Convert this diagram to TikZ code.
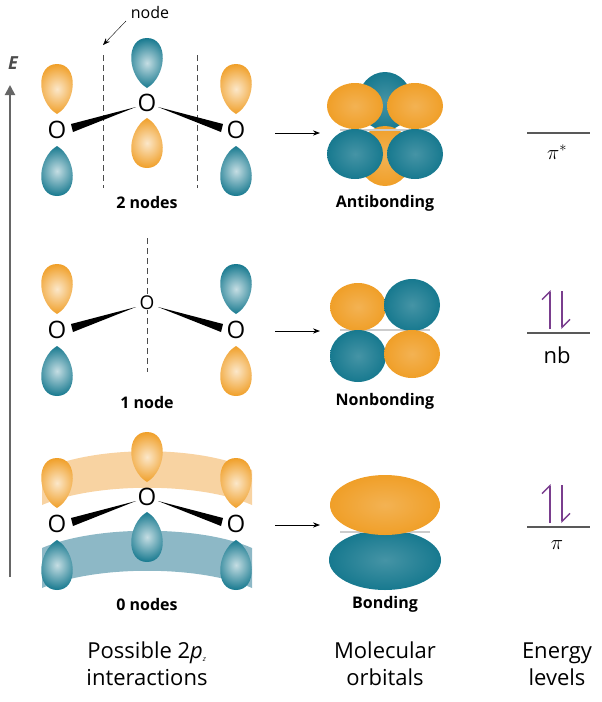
\documentclass[tikz,border=0pt]{standalone}
\usepackage{fontspec}
\setmainfont{Open Sans}
\usetikzlibrary{arrows.meta}
\definecolor{orb}{HTML}{F09F28}
\definecolor{tl}{HTML}{17798F}
\definecolor{lorb}{HTML}{F8D3A2}
\definecolor{ltl}{HTML}{8DB8C6}
\definecolor{pur}{HTML}{7A3E8E}
\newcommand\Lobe[4]{\begin{scope}[shift={(#1,#2)},yscale=#3]
\shade[inner color=#4!25!white, outer color=#4, shading=radial] (0,0) .. controls (-20,-12) and (-22,-50) .. (0,-50) .. controls (22,-50) and (20,-12) .. (0,0);
\end{scope}}
\tikzset{
 atom/.style={font=\fontsize{24}{24}\selectfont, inner sep=0.5pt},
 lab/.style={font=\bfseries\fontsize{16}{18}\selectfont},
 captxt/.style={font=\fontsize{22}{27}\selectfont, align=center},
 ndash/.style={thick, black!70, dash pattern=on 6pt off 4pt},
 rx/.style={-{Stealth[length=7pt]}, thick},
 lev/.style={line width=1.4pt, black!65},
 el/.style={pur, line width=1.4pt},
 mo/.style={inner color=#1!80!white, outer color=#1}
}
\begin{document}
\begin{tikzpicture}[x=1pt,y=-1pt]
\useasboundingbox (0,0) rectangle (602,702);
% E axis
\draw[line width=2pt, black!60, -{Triangle[length=10pt,width=10pt]}] (10,577) -- (10,85);
\node[font=\bfseries\itshape\fontsize{18}{18}\selectfont, black!70] (E) at (13,63) {E};
% ---------- top row ----------
\draw[ndash] (103,55) -- (103,188);
\draw[ndash] (197,55) -- (197,188);
\node[font=\fontsize{16}{16}\selectfont] (nodelab) at (150,12) {node};
\coordinate (nodetip) at (103,45);
\draw[-{Stealth[length=7pt]}] (126,21) -- (nodetip);
\Lobe{57}{114}{1}{orb}\Lobe{57}{146}{-1}{tl}
\Lobe{147}{88}{1}{tl}\Lobe{147}{118}{-1}{orb}
\Lobe{236}{114}{1}{orb}\Lobe{236}{146}{-1}{tl}
\fill (136,107) -- (71,124) -- (73,132) -- cycle;
\fill (158,107) -- (223,124) -- (221,132) -- cycle;
\node[atom,fill=white] (a1) at (57,130) {O};
\node[atom,fill=white] (b1) at (147,103) {O};
\node[atom,fill=white] (c1) at (236,130) {O};
\node[lab] (l1) at (147,202) {2 nodes};
% MO antibonding
\shade[mo=tl] (385,101) ellipse (27 and 29);
\shade[mo=orb] (385,156) ellipse (27 and 30);
\draw[black!20, line width=2pt] (340,130) -- (430,130);
\shade[mo=orb] (355,106) ellipse (28 and 23);
\shade[mo=orb] (415,106) ellipse (28 and 23);
\shade[mo=tl] (355,154) ellipse (28 and 25);
\shade[mo=tl] (415,154) ellipse (28 and 25);
\node[lab] (m1) at (385,203) {Antibonding};
\coordinate (s1) at (275,133); \coordinate (e1) at (320,133);
\draw[rx] (s1) -- (e1);
\coordinate (L1a) at (527,133); \coordinate (L1b) at (590,133);
\draw[lev] (L1a) -- (L1b);
\node[font=\fontsize{22}{22}\selectfont] (pis) at (557,152) {$\pi^{*}$};
% ---------- middle row ----------
\draw[ndash] (147,238) -- (147,372);
\Lobe{57}{314}{1}{orb}\Lobe{57}{346}{-1}{tl}
\Lobe{236}{314}{1}{tl}\Lobe{236}{346}{-1}{orb}
\fill (136,307) -- (71,324) -- (73,332) -- cycle;
\fill (158,307) -- (223,324) -- (221,332) -- cycle;
\node[atom,fill=white] (a2) at (57,330) {O};
\node[atom,fill=white,font=\fontsize{19}{19}\selectfont] (b2) at (147,303) {O};
\node[atom,fill=white] (c2) at (236,330) {O};
\node[lab] (l2) at (147,402) {1 node};
\draw[black!20, line width=2pt] (340,330) -- (430,330);
\shade[mo=orb] (358,307) ellipse (28 and 24);
\shade[mo=tl] (412,305) ellipse (28 and 26);
\shade[mo=tl] (358,356) ellipse (28 and 26);
\shade[mo=orb] (412,354) ellipse (28 and 24);
\node[lab] (m2) at (385,401) {Nonbonding};
\coordinate (s2) at (275,331); \coordinate (e2) at (320,331);
\draw[rx] (s2) -- (e2);
\coordinate (L2a) at (527,333); \coordinate (L2b) at (590,333);
\draw[lev] (L2a) -- (L2b);
\coordinate (u2a) at (550,329); \coordinate (u2b) at (550,290);
\coordinate (d2a) at (562,291); \coordinate (d2b) at (562,329);
\draw[el,-{Straight Barb[left,length=8pt]}] (u2a) -- (u2b);
\draw[el,-{Straight Barb[left,length=8pt]}] (d2a) -- (d2b);
\node[font=\fontsize{22}{22}\selectfont] (nb) at (557,355) {nb};
% ---------- bottom row ----------
\fill[lorb] (42,470) .. controls (95,445) and (200,445) .. (252,470) -- (252,505) .. controls (200,482) and (95,482) .. (42,505) -- cycle;
\fill[ltl] (42,548) .. controls (95,525) and (200,525) .. (252,548) -- (252,588) .. controls (200,565) and (95,565) .. (42,588) -- cycle;
\Lobe{57}{508}{1}{orb}\Lobe{57}{540}{-1}{tl}
\Lobe{147}{482}{1}{orb}\Lobe{147}{512}{-1}{tl}
\Lobe{236}{508}{1}{orb}\Lobe{236}{540}{-1}{tl}
\fill (136,501) -- (71,518) -- (73,526) -- cycle;
\fill (158,501) -- (223,518) -- (221,526) -- cycle;
\node[atom,fill=white] (a3) at (57,524) {O};
\node[atom,fill=white] (b3) at (147,497) {O};
\node[atom,fill=white] (c3) at (236,524) {O};
\node[lab] (l3) at (147,604) {0 nodes};
\shade[mo=tl] (385,560) ellipse (56 and 30);
\draw[black!20, line width=2pt] (340,532) -- (430,532);
\shade[mo=orb] (385,505) ellipse (55 and 30);
\node[lab] (m3) at (385,604) {Bonding};
\coordinate (s3) at (275,525); \coordinate (e3) at (320,525);
\draw[rx] (s3) -- (e3);
\coordinate (L3a) at (527,527); \coordinate (L3b) at (590,527);
\draw[lev] (L3a) -- (L3b);
\coordinate (u3a) at (550,523); \coordinate (u3b) at (550,484);
\coordinate (d3a) at (562,485); \coordinate (d3b) at (562,523);
\draw[el,-{Straight Barb[left,length=8pt]}] (u3a) -- (u3b);
\draw[el,-{Straight Barb[left,length=8pt]}] (d3a) -- (d3b);
\node[font=\fontsize{22}{22}\selectfont] (pi) at (557,545) {$\pi$};
% captions
\node[captxt] (c1t) at (147,664) {Possible 2\textit{p}$_{\textit{\scriptsize z}}$\\interactions};
\node[captxt] (c2t) at (385,664) {Molecular\\orbitals};
\node[captxt] (c3t) at (557,664) {Energy\\levels};
\end{tikzpicture}
\end{document}
